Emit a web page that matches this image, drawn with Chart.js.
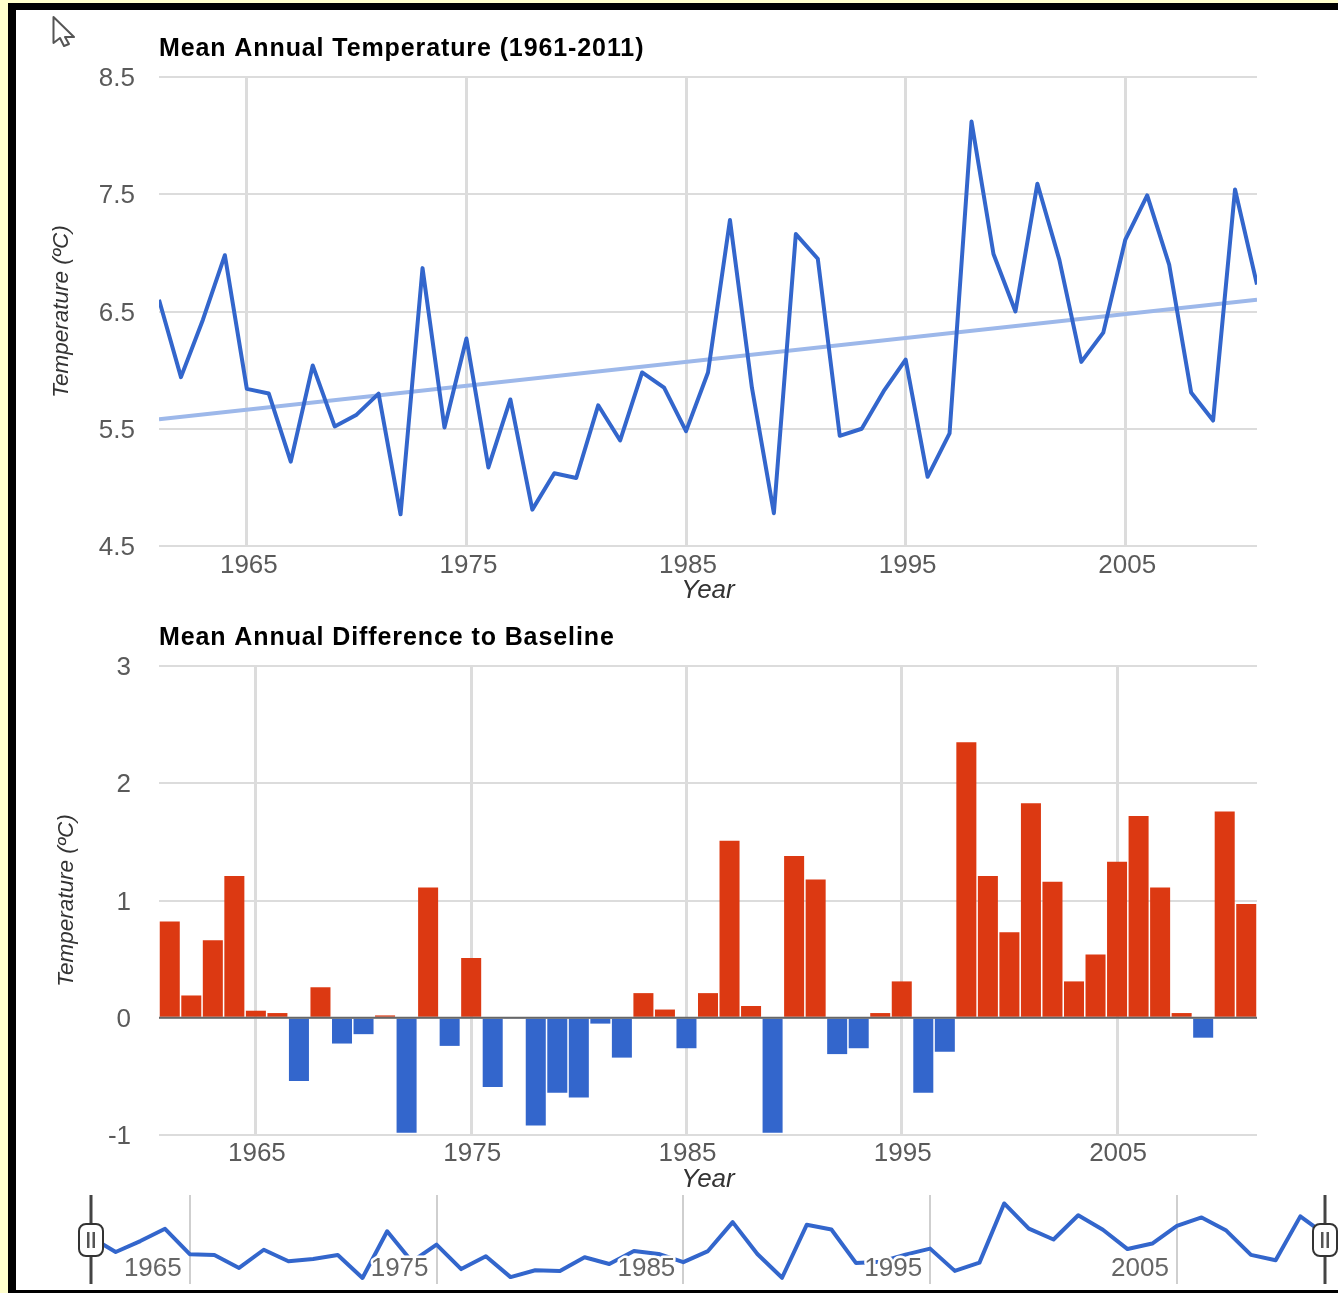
<!DOCTYPE html>
<html>
<head>
<meta charset="utf-8">
<title>Mean Annual Temperature</title>
<script src="https://cdn.jsdelivr.net/npm/chart.js@4"></script>
<style>
    html, body { margin: 0; padding: 0; background: #fff; overflow: hidden; }
    body { width: 1338px; height: 1293px; position: relative; }
    canvas { position: absolute; left: 0; }
    .frame { position: absolute; }
</style>
</head>
<body>
<div class="frame" style="left:0;top:0;width:1338px;height:3px;background:#ffffcc"></div>
<div class="frame" style="left:0;top:0;width:8px;height:1293px;background:#ffffcc"></div>
<canvas id="tempChart" width="1338" height="610" style="top:0"></canvas>
<canvas id="diffChart" width="1338" height="599" style="top:600px"></canvas>
<canvas id="navChart" width="1338" height="89" style="top:1195px"></canvas>
<div class="frame" style="left:8px;top:3px;width:1330px;height:7px;background:#000"></div>
<div class="frame" style="left:8px;top:3px;width:8px;height:1290px;background:#000"></div>
<div class="frame" style="left:8px;top:1290px;width:1330px;height:3px;background:#000"></div>
<!-- mouse pointer caught in the screenshot -->
<svg class="frame" style="left:50px;top:14px" width="28" height="34">
    <path d="M3.5 3 L24 23 L15 23 L19 30 L14 32 L10 24 L3.5 29 Z" fill="#fff" stroke="#555" stroke-width="2" stroke-linejoin="round"/>
</svg>
<script>
const years = [1961, 1962, 1963, 1964, 1965, 1966, 1967, 1968, 1969, 1970,
    1971, 1972, 1973, 1974, 1975, 1976, 1977, 1978, 1979, 1980,
    1981, 1982, 1983, 1984, 1985, 1986, 1987, 1988, 1989, 1990,
    1991, 1992, 1993, 1994, 1995, 1996, 1997, 1998, 1999, 2000,
    2001, 2002, 2003, 2004, 2005, 2006, 2007, 2008, 2009, 2010, 2011];
const meanTemps = [6.6, 5.94, 6.43, 6.98, 5.84, 5.8, 5.22, 6.04, 5.52, 5.62,
    5.8, 4.77, 6.87, 5.51, 6.27, 5.17, 5.75, 4.81, 5.12, 5.08,
    5.7, 5.4, 5.98, 5.85, 5.48, 5.98, 7.28, 5.85, 4.78, 7.16,
    6.95, 5.44, 5.5, 5.82, 6.09, 5.09, 5.46, 8.12, 6.99, 6.5,
    7.59, 6.94, 6.07, 6.32, 7.11, 7.49, 6.9, 5.81, 5.57, 7.54, 6.73];
const baselineDiffs = [0.82, 0.19, 0.66, 1.21, 0.06, 0.04, -0.54, 0.26, -0.22, -0.14,
    0.02, -0.98, 1.11, -0.24, 0.51, -0.59, -0.01, -0.92, -0.64, -0.68,
    -0.05, -0.34, 0.21, 0.07, -0.26, 0.21, 1.51, 0.1, -0.98, 1.38,
    1.18, -0.31, -0.26, 0.04, 0.31, -0.64, -0.29, 2.35, 1.21, 0.73,
    1.83, 1.16, 0.31, 0.54, 1.33, 1.72, 1.11, 0.04, -0.17, 1.76, 0.97];
const trendYears = [1961, 2011];
const trendTemps = [5.58, 6.6];
const zeroYears = [1960.5, 2011.5];
const zeroValues = [0, 0];
const yearTicks = [1965, 1975, 1985, 1995, 2005];
const tempTicks = [4.5, 5.5, 6.5, 7.5, 8.5];
const diffTicks = [-1, 0, 1, 2, 3];

const FONT = '"Liberation Sans", Arial, sans-serif';
const BLUE = '#3366cc';
const RED = '#dc3912';
const GRID = '#dcdcdc';
const TEXT = '#5a5a5a';

const points = (xs, ys) => xs.map((x, i) => ({ x: x, y: ys[i] }));
const fixedTicks = (values) => (scale) => {
    scale.ticks = values.map(v => ({ value: v }));
};

// x axis shared by the two big charts
function yearAxis(min, max, labelShift, labelGap, titleGap) {
    return {
        type: 'linear',
        offset: false,
        min: min,
        max: max,
        afterBuildTicks: fixedTicks(yearTicks),
        afterFit: (scale) => { scale.height = 64; },
        border: { display: false },
        grid: { color: GRID, lineWidth: 3, drawTicks: false, offset: false },
        ticks: {
            color: TEXT,
            maxRotation: 0,
            padding: labelGap,
            labelOffset: labelShift,
            font: { family: FONT, size: 26 },
            callback: (value) => String(value)
        },
        title: {
            display: true,
            text: 'Year',
            color: '#333',
            padding: { top: 0, bottom: titleGap },
            font: { family: FONT, size: 26, style: 'italic' }
        }
    };
}

function valueAxis(min, max, tickValues, format, labelGap, titleGap) {
    return {
        min: min,
        max: max,
        afterBuildTicks: fixedTicks(tickValues),
        afterFit: (scale) => { scale.width = 159; },
        border: { display: false },
        grid: { color: GRID, lineWidth: 2, drawTicks: false },
        ticks: {
            color: TEXT,
            padding: labelGap,
            labelOffset: 2,
            font: { family: FONT, size: 26 },
            callback: format
        },
        title: {
            display: true,
            text: 'Temperature (ºC)',
            color: '#333',
            padding: { top: titleGap, bottom: 0 },
            font: { family: FONT, size: 22.5, style: 'italic' }
        }
    };
}

// Chart title drawn by hand: the reference text is spaced wider than the font
const spacedTitle = {
    id: 'spacedTitle',
    afterDraw(chart, args, opts) {
        const { ctx, chartArea } = chart;
        ctx.save();
        ctx.font = 'bold 25px ' + FONT;
        ctx.letterSpacing = '0.9px';
        ctx.fillStyle = '#000';
        ctx.textAlign = 'left';
        ctx.textBaseline = 'middle';
        ctx.fillText(opts.text, chartArea.left, chartArea.top - 28);
        ctx.restore();
    }
};

// Top chart: yearly mean with its trend line
new Chart(document.getElementById('tempChart'), {
    type: 'line',
    data: {
        datasets: [{
            data: points(years, meanTemps),
            borderColor: BLUE,
            borderWidth: 4,
            pointRadius: 0,
            tension: 0,
            borderJoinStyle: 'round'
        }, {
            data: points(trendYears, trendTemps),
            borderColor: '#9db8ea',
            borderWidth: 4,
            pointRadius: 0
        }]
    },
    plugins: [spacedTitle],
    options: {
        responsive: false,
        animation: false,
        layout: { padding: { top: 77, right: 81 } },
        plugins: {
            legend: { display: false },
            tooltip: { enabled: false },
            spacedTitle: { text: 'Mean Annual Temperature (1961-2011)' }
        },
        scales: {
            x: yearAxis(1961, 2011, 2, 4, 4),
            y: valueAxis(4.5, 8.5, tempTicks, (value) => value.toFixed(1), 24, 48.5)
        }
    }
});

// Middle chart: difference to baseline, red above zero and blue below
new Chart(document.getElementById('diffChart'), {
    type: 'bar',
    data: {
        datasets: [{
            type: 'line',
            data: points(zeroYears, zeroValues),
            borderColor: '#666',
            borderWidth: 2,
            pointRadius: 0,
            order: 0
        }, {
            data: points(years, baselineDiffs),
            backgroundColor: baselineDiffs.map(v => v < 0 ? BLUE : RED),
            barPercentage: 0.93,
            categoryPercentage: 1,
            order: 1
        }]
    },
    plugins: [spacedTitle],
    options: {
        responsive: false,
        animation: false,
        layout: { padding: { top: 66, right: 81 } },
        plugins: {
            legend: { display: false },
            tooltip: { enabled: false },
            spacedTitle: { text: 'Mean Annual Difference to Baseline' }
        },
        scales: {
            x: yearAxis(1960.5, 2011.5, 1, 3, 4),
            y: valueAxis(-1, 3, diffTicks, (value) => String(value), 28, 53.5)
        }
    }
});

// Labels sit just left of each grid line, with a white halo over the line
const navLabels = {
    id: 'navLabels',
    afterDatasetsDraw(chart) {
        const { ctx, scales: { x } } = chart;
        ctx.save();
        ctx.font = '26px ' + FONT;
        ctx.textAlign = 'right';
        ctx.textBaseline = 'middle';
        ctx.lineJoin = 'round';
        yearTicks.forEach(year => {
            const px = x.getPixelForValue(year) - 8;
            ctx.strokeStyle = '#fff';
            ctx.lineWidth = 5;
            ctx.strokeText(String(year), px, 74);
            ctx.fillStyle = '#666';
            ctx.fillText(String(year), px, 74);
        });
        ctx.restore();
    }
};

// The two range handles at both ends of the navigator
const navHandles = {
    id: 'navHandles',
    afterDraw(chart) {
        const { ctx, chartArea, scales: { x } } = chart;
        [x.min, x.max].forEach(year => {
            const px = x.getPixelForValue(year);
            ctx.save();
            ctx.strokeStyle = '#444';
            ctx.lineWidth = 3;
            ctx.beginPath();
            ctx.moveTo(px, chartArea.top);
            ctx.lineTo(px, chartArea.bottom);
            ctx.stroke();
            ctx.fillStyle = '#fff';
            ctx.strokeStyle = '#333';
            ctx.lineWidth = 2;
            ctx.beginPath();
            ctx.roundRect(px - 12, 29, 24, 32, 7);
            ctx.fill();
            ctx.stroke();
            ctx.fillStyle = '#555';
            ctx.fillRect(px - 4, 37, 2.5, 16);
            ctx.fillRect(px + 1.5, 37, 2.5, 16);
            ctx.restore();
        });
    }
};

// Bottom strip: range navigator over the same series
new Chart(document.getElementById('navChart'), {
    type: 'line',
    data: {
        datasets: [{
            data: points(years, meanTemps),
            borderColor: BLUE,
            borderWidth: 4,
            pointRadius: 0,
            tension: 0,
            borderJoinStyle: 'round',
            clip: false
        }]
    },
    plugins: [navLabels, navHandles],
    options: {
        responsive: false,
        animation: false,
        layout: { padding: { left: 91, right: 13 } },
        plugins: {
            legend: { display: false },
            tooltip: { enabled: false },
            title: { display: false }
        },
        scales: {
            x: {
                type: 'linear',
                min: 1961,
                max: 2011,
                afterBuildTicks: fixedTicks(yearTicks),
                afterFit: (scale) => { scale.height = 0; },
                border: { display: false },
                grid: { color: '#cfcfcf', lineWidth: 2, drawTicks: false },
                ticks: { display: false }
            },
            y: {
                display: false,
                min: 4.5,
                max: 8.5
            }
        }
    }
});
</script>
</body>
</html>
